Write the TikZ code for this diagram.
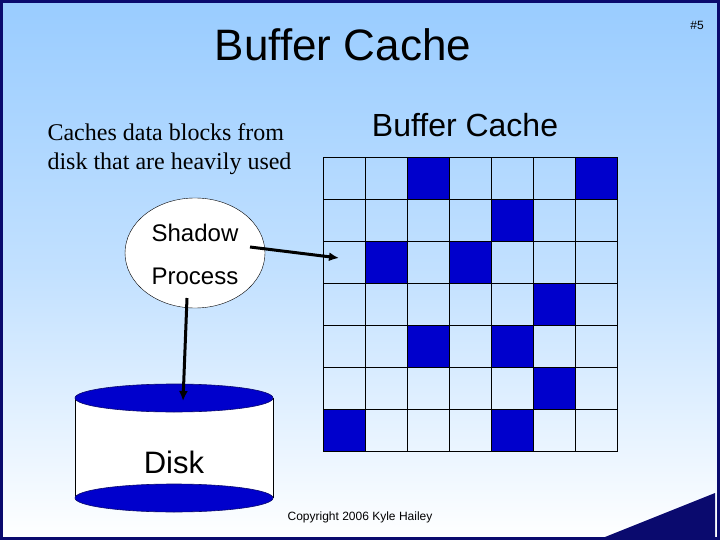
\documentclass[tikz,border=0pt]{standalone}
\usetikzlibrary{shapes.geometric,arrows.meta}
\usepackage{fontspec}
\setmainfont{Liberation Sans}
\newfontfamily\serif{Liberation Serif}
\definecolor{navy}{HTML}{0A0A6E}
\definecolor{bgtop}{HTML}{99CCFF}
\definecolor{cellblue}{HTML}{0000CC}
\begin{document}
\begin{tikzpicture}[x=1pt,y=-1pt,
  cell/.style={draw=black,line width=0.8pt},
  dark/.style={cell,fill=cellblue},
  arr/.style={line width=3pt,-{Latex[length=10pt,width=9pt]}},
  diskcap/.style={fill=cellblue,draw=navy,line width=0.6pt}]
\useasboundingbox (0,0) rectangle (720,540);
\shade[top color=bgtop,bottom color=white,middle color=white!40!bgtop] (0,0) rectangle (720,540);
\fill[navy] (605,537) -- (715,493) -- (715,537) -- cycle;
\draw[navy,line width=3pt] (1.5,1.5) rectangle (718.5,538.5);
\node (title) at (343,45) {\fontsize{44}{48}\selectfont Buffer Cache};
\node (num) at (697,25) {\fontsize{12}{14}\selectfont \#5};
\node (bc) at (465,125) {\fontsize{32}{36}\selectfont Buffer Cache};
\node[align=left,anchor=west,font={\serif\fontsize{24}{29}\selectfont}] (desc) at (44,149) {Caches data blocks from\\ disk that are heavily used};
\node (copy) at (360,517) {\fontsize{12}{14}\selectfont Copyright 2006 Kyle Hailey};
% grid
\foreach \r in {0,...,6}{\foreach \c in {0,...,6}{
  \draw[cell] ({323+42*\c},{157+42*\r}) rectangle ++(42,42);}}
\foreach \r/\c in {0/2,0/6,1/4,2/1,2/3,3/5,4/2,4/4,5/5,6/0,6/4}{
  \draw[dark] ({323+42*\c},{157+42*\r}) rectangle ++(42,42);}
\coordinate (gridin) at (339,258);
% shadow process
\node[ellipse,draw=black,fill=white,minimum width=140pt,minimum height=110pt,inner sep=0pt,align=center] (sp) at (195,253) {};
\node (sh) at (195,233) {\fontsize{24}{28}\selectfont Shadow};
\node (pr) at (195,276) {\fontsize{24}{28}\selectfont Process};
% disk
\fill[white] (75,398) rectangle (273,498);
\draw[black,line width=0.6pt] (75,398) -- (75,498) (273,398) -- (273,498);
\draw[diskcap] (174,498) ellipse (99 and 14);
\node[diskcap,ellipse,minimum width=198pt,minimum height=28pt,inner sep=0pt] (dtop) at (174,398) {};
\node (disk) at (174,462) {\fontsize{31}{34}\selectfont Disk};
\coordinate (spr) at (250,247);
\coordinate (spb) at (187,298);
\draw[arr] (spr) -- (gridin);
\draw[arr] (spb) -- (183,401);
\end{tikzpicture}
\end{document}
